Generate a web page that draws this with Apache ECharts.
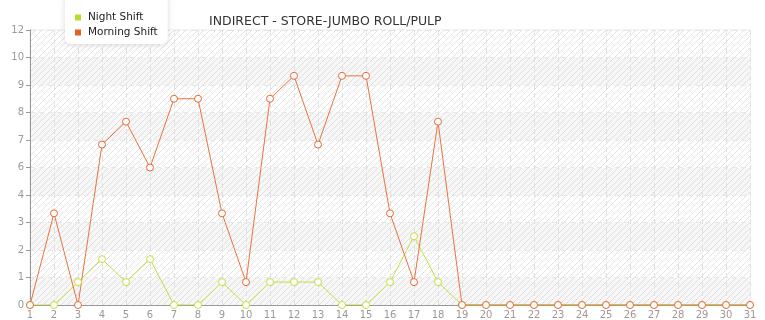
<!DOCTYPE html>
<html><head><meta charset="utf-8">
<script src="https://cdn.jsdelivr.net/npm/echarts@6/dist/echarts.min.js"></script>
<style>html,body{margin:0;padding:0;background:#fff}#c{width:765px;height:320px}</style>
</head><body><div id="c"></div>
<script>
var categories = ['1','2','3','4','5','6','7','8','9','10','11','12','13','14','15','16','17','18','19','20','21','22','23','24','25','26','27','28','29','30','31'];
var nightShift = [0,0,1,2,1,2,0,0,1,0,1,1,1,0,0,1,3,1,0,0,0,0,0,0,0,0,0,0,0,0,0];
var morningShift = [0,4,0,7,8,6,9,9,4,1,9,10,7,10,10,4,1,8,0,0,0,0,0,0,0,0,0,0,0,0,0];
var titleText = 'INDIRECT - STORE-JUMBO ROLL/PULP';
var seriesNames = ['Night Shift','Morning Shift'];

function hatch(bg){
  var c=document.createElement('canvas');c.width=6;c.height=6;
  var g=c.getContext('2d');g.fillStyle=bg;g.fillRect(0,0,6,6);
  g.strokeStyle='rgba(200,200,200,0.5)';g.lineWidth=1;
  g.beginPath();g.moveTo(-1,7);g.lineTo(7,-1);g.moveTo(-1,1);g.lineTo(1,-1);g.moveTo(5,7);g.lineTo(7,5);g.stroke();
  return {image:c,repeat:'repeat'};
}
var chart=echarts.init(document.getElementById('c'));
var font='"DejaVu Sans", Verdana, sans-serif';
chart.setOption({
  animation:false,
  textStyle:{fontFamily:font},
  title:{text:titleText,left:204,top:10,textStyle:{fontSize:12.5,fontWeight:'normal',color:'#333',fontFamily:font}},
  legend:{data:[
      {name:seriesNames[0],itemStyle:{color:'#b9dc2c',borderWidth:0}},
      {name:seriesNames[1],itemStyle:{color:'#e0622a',borderWidth:0}}],
    orient:'vertical',left:65,top:-6,padding:[18,10,6,10],itemGap:4,
    itemWidth:6,itemHeight:6,icon:'rect',backgroundColor:'#fff',borderRadius:6,
    shadowBlur:6,shadowColor:'rgba(0,0,0,0.15)',shadowOffsetY:1,
    textStyle:{fontSize:10.5,color:'#222',fontFamily:font,padding:[0,0,0,2]}},
  grid:{left:30,right:15,top:30,bottom:15,show:true,borderColor:'#e6e6e6',borderWidth:1},
  xAxis:{type:'category',data:categories,boundaryGap:false,
    axisLine:{lineStyle:{color:'#999'}},axisTick:{show:false},
    axisLabel:{color:'#999',fontSize:10,margin:5,interval:0},
    splitLine:{show:true,lineStyle:{color:'#e0e0e0',type:[5,4]}}},
  yAxis:{type:'value',min:0,max:12,interval:1.2,
    axisLine:{show:true,lineStyle:{color:'#999'}},axisTick:{show:true,length:4,lineStyle:{color:'#999'}},
    axisLabel:{color:'#999',fontSize:10,margin:6,formatter:function(v){return Math.floor(v+1e-9);}},
    splitLine:{show:true,lineStyle:{color:'#e6e6e6',type:[5,4]}},
    splitArea:{show:true,areaStyle:{color:[hatch('#f7f7f7'),hatch('#ffffff')]}}},
  series:[
    {name:seriesNames[0],type:'line',data:nightShift,symbol:'circle',symbolSize:7,
     color:'#b9dc2c',lineStyle:{width:1,color:'#c3df3c'},itemStyle:{color:'#fff',borderColor:'#c3df3c',borderWidth:1}},
    {name:seriesNames[1],type:'line',data:morningShift,symbol:'circle',symbolSize:7,
     color:'#e0622a',lineStyle:{width:1,color:'#e8733f'},itemStyle:{color:'#fff',borderColor:'#e5693a',borderWidth:1}}
  ]
});
</script></body></html>
